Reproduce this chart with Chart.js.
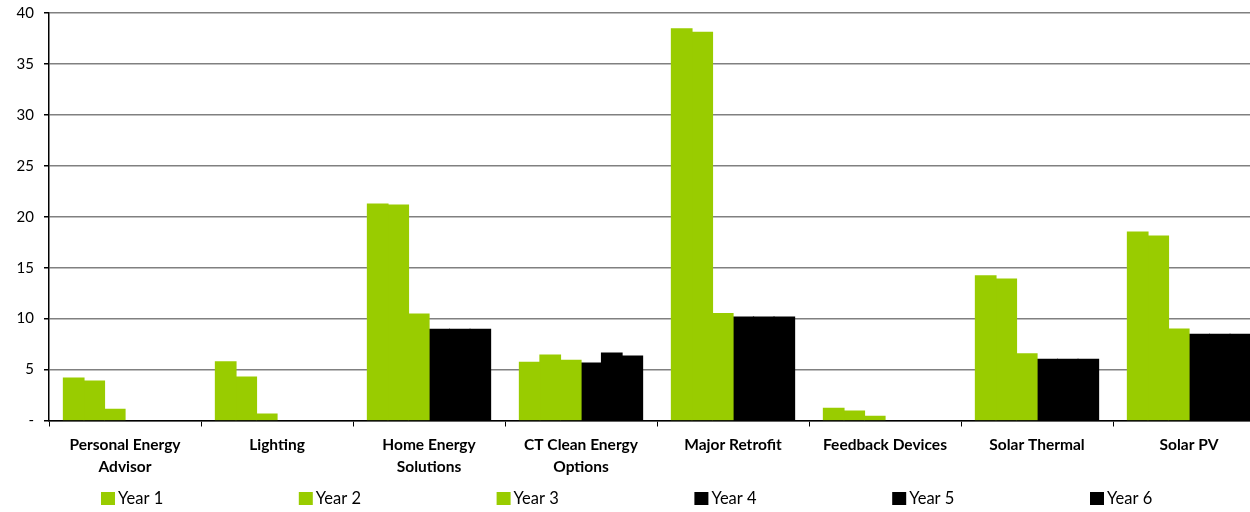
<!DOCTYPE html>
<html>
<head>
<meta charset="utf-8">
<script src="https://cdn.jsdelivr.net/npm/chart.js@4/dist/chart.umd.min.js"></script>
<style>
  html, body { margin: 0; padding: 0; background: #fff; overflow: hidden; }
  #wrap { width: 1266px; height: 518px; margin-top: -6px; }
</style>
</head>
<body>
<div id="wrap"><canvas id="c" width="1266" height="518"></canvas></div>
<script>
// Programme categories along the x axis
const categories = [
  ['Personal Energy', 'Advisor'],
  'Lighting',
  ['Home Energy', 'Solutions'],
  ['CT Clean Energy', 'Options'],
  'Major Retrofit',
  'Feedback Devices',
  'Solar Thermal',
  'Solar PV'
];

// Values per year
const year1 = [4.17, 5.76, 21.25, 5.70, 38.45, 1.20, 14.20, 18.50];
const year2 = [3.87, 4.26, 21.15, 6.42, 38.10, 0.93, 13.87, 18.10];
const year3 = [1.10, 0.64, 10.45, 5.90, 10.50, 0.41, 6.55, 8.97];
const year4 = [0, 0, 8.94, 5.64, 10.15, 0, 6.00, 8.45];
const year5 = [0, 0, 8.94, 6.62, 10.15, 0, 6.00, 8.45];
const year6 = [0, 0, 8.94, 6.32, 10.15, 0, 6.00, 8.45];

const seriesNames = ['Year 1', 'Year 2', 'Year 3', 'Year 4', 'Year 5', 'Year 6'];
const seriesValues = [year1, year2, year3, year4, year5, year6];

// Y axis range
const yMin = 0;
const yMax = 40;
const yStep = 5;

const GREEN = '#99cc00';
const BLACK = '#000000';
const FONT = 'Lato, "Liberation Sans", sans-serif';

const datasets = seriesValues.map((vals, i) => ({
  label: seriesNames[i],
  data: vals,
  backgroundColor: i < 3 ? GREEN : BLACK,
  borderWidth: 0,
  inflateAmount: 0.6,
  categoryPercentage: 0.81,
  barPercentage: 1.0
}));

// Legend row drawn under the axis labels, evenly spaced
const bottomLegend = {
  id: 'bottomLegend',
  afterDraw(chart) {
    const ctx = chart.ctx;
    const y = chart.height - 13.5;
    ctx.save();
    ctx.font = '16.5px ' + FONT;
    ctx.textBaseline = 'middle';
    ctx.textAlign = 'left';
    chart.data.datasets.forEach((ds, i) => {
      const x = 101 + i * 197.8;
      ctx.fillStyle = ds.backgroundColor;
      ctx.fillRect(x, y - 6.5, 14, 13);
      ctx.fillStyle = '#000';
      ctx.fillText(ds.label, x + 17, y + 0.5);
    });
    ctx.restore();
  }
};

new Chart(document.getElementById('c'), {
  type: 'bar',
  data: { labels: categories, datasets },
  options: {
    responsive: false,
    animation: false,
    devicePixelRatio: 1,
    layout: { padding: { top: 7, right: 1, left: 0, bottom: 0 } },
    plugins: {
      legend: { display: false },
      tooltip: { enabled: false }
    },
    scales: {
      x: {
        offset: true,
        grid: {
          offset: true,
          drawOnChartArea: false,
          color: '#000',
          tickColor: '#000',
          tickLength: 6,
          lineWidth: 1
        },
        border: { color: '#000', width: 1.5 },
        ticks: {
          color: '#000',
          padding: 7,
          maxRotation: 0,
          autoSkip: false,
          font: { family: FONT, size: 15.5, weight: 'bold', lineHeight: 1.42 }
        },
        afterFit(scale) { scale.height = 91.5; }
      },
      y: {
        min: yMin,
        max: yMax,
        grid: {
          color: '#808080',
          lineWidth: 1.5,
          tickColor: '#000',
          tickLength: 5
        },
        border: { color: '#000', width: 1.5 },
        ticks: {
          stepSize: yStep,
          color: '#000',
          padding: 10,
          font: { family: FONT, size: 15 },
          callback: (v) => (v === 0 ? '-' : String(v))
        },
        afterFit(scale) { scale.width = 49; }
      }
    }
  },
  plugins: [bottomLegend]
});
</script>
</body>
</html>
